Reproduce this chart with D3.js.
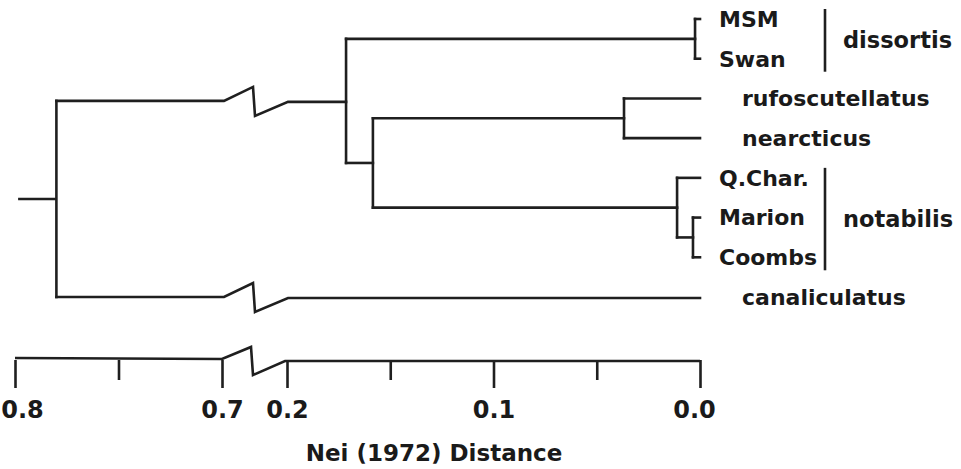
<!DOCTYPE html>
<html>
<head>
<meta charset="utf-8">
<script src="https://cdn.jsdelivr.net/npm/d3@7/dist/d3.min.js"></script>
<style>
  body { margin: 0; background: #fff; }
  svg text { font-family: "DejaVu Sans", sans-serif; font-weight: bold; fill: #1a1a1a; }
</style>
</head>
<body>
<svg id="chart"></svg>
<script>
const w = 961;
const h = 469;

// leaves, top to bottom
const leaves = ["MSM", "Swan", "rufoscutellatus", "nearcticus", "Q.Char.", "Marion", "Coombs", "canaliculatus"];

// internal nodes and their distance (Nei 1972)
const nodeIds = ["root", "A", "B", "rn", "dis", "not", "mc"];
const nodeHeights = [0.780, 0.1714, 0.1584, 0.0368, 0.0024, 0.0111, 0.0034];
const nodeChildren = [
  ["A", "canaliculatus"],
  ["dis", "B"],
  ["rn", "not"],
  ["rufoscutellatus", "nearcticus"],
  ["MSM", "Swan"],
  ["Q.Char.", "mc"],
  ["Marion", "Coombs"]
];
const rootStart = 0.7985;

// species groups
const groupNames = ["dissortis", "notabilis"];
const groupMembers = [["MSM", "Swan"], ["Q.Char.", "Marion", "Coombs"]];

// axis
const majorTicks = [0.8, 0.7, 0.2, 0.1, 0.0];
const tickLabels = ["0.8", "0.7", "0.2", "0.1", "0.0"];
const minorTicks = [0.75, 0.15, 0.05];
const breakFrom = 0.7;
const breakTo = 0.2;
const axisTitle = "Nei (1972) Distance";

const svg = d3.select("#chart").attr("width", w).attr("height", h);

const xScale = d3.scaleLinear()
  .domain([0.8, breakFrom, breakTo, 0])
  .range([15, 222, 287, 700]);

const yScale = d3.scalePoint().domain(leaves).range([19, 297]);

// build hierarchy
const buildNode = (id) => {
  const i = nodeIds.indexOf(id);
  if (i < 0) return { id: id, height: 0 };
  return { id: id, height: nodeHeights[i], children: nodeChildren[i].map(buildNode) };
};
const root = d3.hierarchy(buildNode("root"));
root.eachAfter((d) => {
  d.py = d.children ? d3.mean(d.children, (c) => c.py) : yScale(d.data.id);
  d.px = xScale(d.data.height);
});

const line = d3.line();
const stroke = "#1f1f1f";
const sw = 2.6;

const zig = (x0, x1, y) => {
  const b1 = xScale(breakFrom);
  const b2 = xScale(breakTo);
  return [[x0, y], [b1 + 2, y], [b1 + 31, y - 14], [b1 + 33, y + 15], [b2 + 1, y + 1], [x1, y + 1]];
};

const tree = svg.append("g").attr("fill", "none").attr("stroke", stroke)
  .attr("stroke-width", sw).attr("stroke-linejoin", "miter").attr("stroke-linecap", "square");

// root stub
tree.append("path").attr("d", line([[xScale(rootStart), root.py], [root.px, root.py]]))
  .attr("stroke-linecap", "butt");

// horizontal branches
root.descendants().filter((d) => d.parent).forEach((d) => {
  const x0 = d.parent.px;
  const pts = (d.parent.data.height > breakFrom && d.data.height < breakTo)
    ? zig(x0, d.px, d.py)
    : [[x0, d.py], [d.px, d.py]];
  tree.append("path").attr("d", line(pts));
});

// vertical connectors
root.descendants().filter((d) => d.children).forEach((d) => {
  const ys = d.children.map((c) => c.py);
  tree.append("path").attr("d", line([[d.px, d3.min(ys)], [d.px, d3.max(ys)]]));
});

// leaf labels
const grouped = groupMembers.flat();
svg.append("g").selectAll("text").data(root.leaves()).join("text")
  .attr("x", (d) => xScale(0) + (grouped.includes(d.data.id) ? 19 : 42))
  .attr("y", (d) => d.py)
  .attr("dy", "0.36em")
  .style("font-size", "22px")
  .text((d) => d.data.id);

// group bars and names
groupNames.forEach((g, i) => {
  const ys = groupMembers[i].map((m) => yScale(m));
  const y0 = d3.min(ys) - 10;
  const y1 = d3.max(ys) + 13;
  svg.append("line").attr("x1", 825).attr("x2", 825).attr("y1", y0).attr("y2", y1)
    .attr("stroke", stroke).attr("stroke-width", sw);
  svg.append("text").attr("x", 843).attr("y", (y0 + y1) / 2).attr("dy", "0.36em")
    .style("font-size", "22.5px").text(g);
});

// axis
const axisY = 360;
const axisG = svg.append("g").attr("transform", `translate(0,${axisY})`);
axisG.append("g").call(
  d3.axisBottom(xScale).tickValues(majorTicks).tickSize(28).tickPadding(13)
    .tickFormat((d, i) => tickLabels[i])
);
axisG.append("g").call(
  d3.axisBottom(xScale).tickValues(minorTicks).tickSize(20).tickFormat("")
);
axisG.selectAll(".domain").remove();
axisG.selectAll(".tick line").attr("stroke", stroke).attr("stroke-width", sw);
axisG.selectAll(".tick text")
  .style("font-size", "24px")
  .style("font-family", "DejaVu Sans")
  .style("font-weight", "bold")
  .attr("fill", "#1a1a1a")
  .attr("dx", (d) => (d === 0.8 ? 7 : d === 0 ? -6 : 0));

const b1 = xScale(breakFrom);
const b2 = xScale(breakTo);
axisG.append("path")
  .attr("d", line([[xScale(0.8), -2], [b1, -1], [b1 + 29, -13], [b1 + 31, 15], [b2 - 2, 1], [xScale(0), 1]]))
  .attr("fill", "none").attr("stroke", stroke).attr("stroke-width", sw).attr("stroke-linejoin", "miter");

svg.append("text")
  .attr("x", 434)
  .attr("y", 461)
  .attr("text-anchor", "middle")
  .style("font-size", "23px")
  .text(axisTitle);
</script>
</body>
</html>
